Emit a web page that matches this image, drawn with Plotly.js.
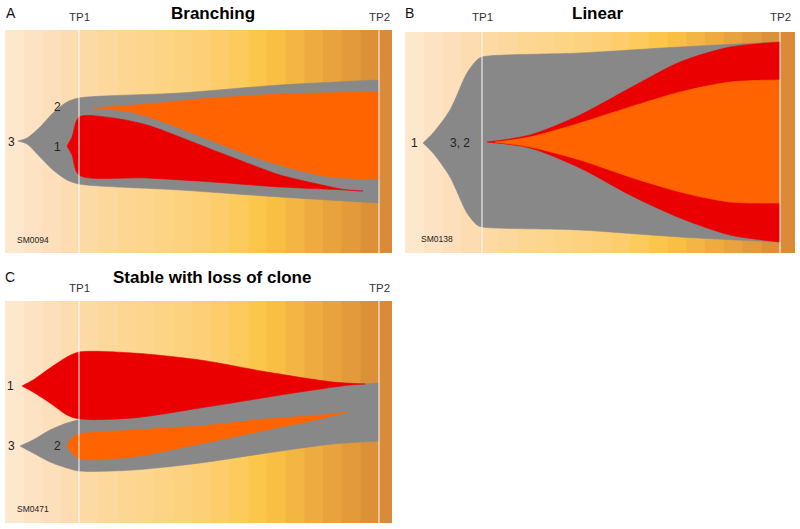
<!DOCTYPE html>
<html><head><meta charset="utf-8">
<script src="https://cdn.plot.ly/plotly-3.0.1.min.js"></script>
<style>html,body{margin:0;padding:0;background:#fff}#chart{width:800px;height:529px}</style>
</head><body><div id="chart"></div>
<script>
// ---------------- data ----------------
const panelLetters = ['A', 'B', 'C'];
const panelTitles = ['Branching', 'Linear', 'Stable with loss of clone'];
const sampleIds = ['SM0094', 'SM0138', 'SM0471'];
const timepointLabels = ['TP1', 'TP2'];

// Panel A (Branching) – clone boundaries (x = position along time, y = vertical position)
const A_c3_top_x = [18, 27, 40, 53, 67, 79, 180, 280, 379];
const A_c3_top_y = [141, 138, 127, 113, 102, 98, 93, 85, 80];
const A_c3_bot_x = [18, 27, 40, 53, 67, 79, 180, 280, 379];
const A_c3_bot_y = [141, 144, 157, 170, 180, 184, 190, 197, 203];
const A_c2_top_x = [93, 147, 213, 280, 379];
const A_c2_top_y = [108, 104, 98, 94, 92];
const A_c2_bot_x = [93, 130, 163, 197, 230, 263, 297, 330, 379];
const A_c2_bot_y = [108, 112, 122, 135, 148, 160, 170, 177, 179];
const A_c1_top_x = [67, 72, 79, 113, 147, 180, 213, 247, 280, 313, 347, 363];
const A_c1_top_y = [146, 137, 117, 118, 125, 137, 150, 163, 175, 183, 190, 191];
const A_c1_bot_x = [67, 72, 79, 147, 213, 280, 347, 363];
const A_c1_bot_y = [146, 155, 175, 178, 182, 187, 190, 191];

// Panel B (Linear)
const B_c1_top_x = [423, 433, 450, 467, 477, 482, 580, 680, 780];
const B_c1_top_y = [143, 133, 110, 73, 60, 57, 53, 47, 42];
const B_c1_bot_x = [423, 433, 450, 467, 477, 482, 580, 680, 780];
const B_c1_bot_y = [143, 153, 177, 213, 225, 227, 230, 237, 242];
const B_c3_top_x = [487, 530, 580, 630, 680, 730, 780];
const B_c3_top_y = [142, 135, 115, 88, 62, 47, 42];
const B_c3_bot_x = [487, 530, 580, 630, 680, 730, 780];
const B_c3_bot_y = [142, 148, 168, 195, 218, 235, 242];
const B_c2_top_x = [495, 530, 580, 630, 680, 730, 780];
const B_c2_top_y = [142, 137, 123, 107, 92, 82, 80];
const B_c2_bot_x = [495, 530, 580, 630, 680, 730, 780];
const B_c2_bot_y = [142, 147, 160, 177, 192, 202, 203];

// Panel C (Stable with loss of clone)
const C_c3_top_x = [20, 33, 50, 67, 79, 133, 200, 250, 300, 350, 379];
const C_c3_top_y = [446, 440, 430, 423, 420, 416, 406, 398, 390, 385, 383];
const C_c3_bot_x = [20, 33, 50, 67, 79, 133, 200, 267, 333, 379];
const C_c3_bot_y = [446, 453, 462, 468, 471, 470, 463, 453, 444, 441];
const C_c2_top_x = [67, 72, 79, 133, 200, 267, 320, 348];
const C_c2_top_y = [446, 438, 434, 430, 426, 419, 415, 412];
const C_c2_bot_x = [67, 72, 79, 133, 200, 267, 320, 348];
const C_c2_bot_y = [446, 453, 459, 457, 444, 430, 419, 412];
const C_c1_top_x = [22, 33, 50, 67, 79, 133, 200, 267, 333, 365];
const C_c1_top_y = [386, 380, 368, 357, 352, 353, 360, 372, 382, 384];
const C_c1_bot_x = [22, 33, 50, 67, 79, 133, 200, 250, 300, 350, 365];
const C_c1_bot_y = [386, 392, 403, 415, 419, 418, 408, 400, 392, 385, 384];

// clone labels: [text, x, y]
const A_labels = [['3', 11, 142], ['2', 57, 107], ['1', 57, 147]];
const B_labels = [['1', 414, 143], ['3, 2', 460, 143]];
const C_labels = [['1', 10, 386], ['3', 11, 446], ['2', 57, 446]];

// ---------------- styles / geometry ----------------
const W = 800, H = 529;
const GREY = '#888888', RED = '#ea0000', ORANGE = '#ff6400';
const bandColors = ['#fde7cd','#fde3c3','#fde0bb','#fddcb1','#fdd9a4','#fdd89c','#fdd693','#fdd58c',
  '#fdd486','#fdd27f','#fdd077','#fdcd6b','#fdca5c','#fcc64a','#f9bf45','#f4b642','#eeac40','#e9a33e',
  '#e39a3b','#dc9038'];
const stripColor = '#d98b3a';
const FONT = '"Liberation Sans", Arial, Helvetica, sans-serif';

const panels = [
  {xa: 'x',  ya: 'y',  left: 5,   right: 392, top: 30,  bottom: 253, tp1: 79,  tp2: 379,
   letter: [11, 13], title: [213, 13], tpy: 17, sid: [33, 240], labels: A_labels},
  {xa: 'x2', ya: 'y2', left: 405, right: 795, top: 32,  bottom: 253, tp1: 482, tp2: 780,
   letter: [410, 13], title: [597, 13], tpy: 17, sid: [437, 239], labels: B_labels},
  {xa: 'x3', ya: 'y3', left: 5,   right: 392, top: 301, bottom: 523, tp1: 79,  tp2: 379,
   letter: [10, 277], title: [212, 277], tpy: 288, sid: [33, 509], labels: C_labels},
];

function cloneTraces(xa, ya, color, tx, ty, bx, by) {
  const common = {xaxis: xa, yaxis: ya, mode: 'lines', hoverinfo: 'skip', showlegend: false,
    line: {shape: 'spline', smoothing: 0.8, width: 0.6, color: color}};
  return [
    Object.assign({}, common, {x: bx, y: by}),
    Object.assign({}, common, {x: tx, y: ty, fill: 'tonexty', fillcolor: color})
  ];
}

const traces = [].concat(
  cloneTraces('x', 'y', GREY, A_c3_top_x, A_c3_top_y, A_c3_bot_x, A_c3_bot_y),
  cloneTraces('x', 'y', ORANGE, A_c2_top_x, A_c2_top_y, A_c2_bot_x, A_c2_bot_y),
  cloneTraces('x', 'y', RED, A_c1_top_x, A_c1_top_y, A_c1_bot_x, A_c1_bot_y),
  cloneTraces('x2', 'y2', GREY, B_c1_top_x, B_c1_top_y, B_c1_bot_x, B_c1_bot_y),
  cloneTraces('x2', 'y2', RED, B_c3_top_x, B_c3_top_y, B_c3_bot_x, B_c3_bot_y),
  cloneTraces('x2', 'y2', ORANGE, B_c2_top_x, B_c2_top_y, B_c2_bot_x, B_c2_bot_y),
  cloneTraces('x3', 'y3', GREY, C_c3_top_x, C_c3_top_y, C_c3_bot_x, C_c3_bot_y),
  cloneTraces('x3', 'y3', ORANGE, C_c2_top_x, C_c2_top_y, C_c2_bot_x, C_c2_bot_y),
  cloneTraces('x3', 'y3', RED, C_c1_top_x, C_c1_top_y, C_c1_bot_x, C_c1_bot_y)
);

const layout = {
  width: W, height: H, margin: {l: 0, r: 0, t: 0, b: 0},
  paper_bgcolor: '#ffffff', plot_bgcolor: 'rgba(0,0,0,0)',
  showlegend: false, font: {family: FONT},
  shapes: [], annotations: []
};

function ann(text, px, py, size, extra) {
  return Object.assign({text: text, x: px / W, y: 1 - py / H, xref: 'paper', yref: 'paper',
    xanchor: 'center', yanchor: 'middle', showarrow: false,
    font: {family: FONT, size: size, color: '#222'}}, extra || {});
}

panels.forEach((p, i) => {
  const xk = p.xa === 'x' ? 'xaxis' : 'xaxis' + p.xa.slice(1);
  const yk = p.ya === 'y' ? 'yaxis' : 'yaxis' + p.ya.slice(1);
  layout[xk] = {domain: [p.left / W, p.right / W], range: [p.left, p.right], visible: false,
    fixedrange: true, anchor: p.ya};
  layout[yk] = {domain: [1 - p.bottom / H, 1 - p.top / H], range: [p.bottom, p.top], visible: false,
    fixedrange: true, anchor: p.xa};
  // background gradient bands
  const bw = (p.tp2 - p.left) / bandColors.length;
  bandColors.forEach((c, k) => {
    layout.shapes.push({type: 'rect', xref: p.xa, yref: p.ya, layer: 'below',
      x0: p.left + k * bw, x1: p.left + (k + 1) * bw + 0.6, y0: p.top, y1: p.bottom,
      fillcolor: c, line: {width: 0}});
  });
  layout.shapes.push({type: 'rect', xref: p.xa, yref: p.ya, layer: 'below',
    x0: p.tp2, x1: p.right, y0: p.top, y1: p.bottom, fillcolor: stripColor, line: {width: 0}});
  // timepoint lines
  [p.tp1, p.tp2].forEach(tx => {
    layout.shapes.push({type: 'line', xref: p.xa, yref: p.ya, layer: 'above',
      x0: tx, x1: tx, y0: p.top, y1: p.bottom,
      line: {color: 'rgba(255,255,255,0.65)', width: 1.5}});
  });
  // texts
  layout.annotations.push(ann(panelLetters[i], p.letter[0], p.letter[1], 14, {font: {family: FONT, size: 14, color: '#111'}}));
  layout.annotations.push(ann('<b>' + panelTitles[i] + '</b>', p.title[0], p.title[1], 17, {font: {family: FONT, size: 17, color: '#000'}}));
  layout.annotations.push(ann(timepointLabels[0], p.tp1, p.tpy, 11.5, {font: {family: FONT, size: 11.5, color: '#333'}}));
  layout.annotations.push(ann(timepointLabels[1], p.tp2, p.tpy, 11.5, {font: {family: FONT, size: 11.5, color: '#333'}}));
  layout.annotations.push(ann(sampleIds[i], p.sid[0], p.sid[1], 8.5, {font: {family: FONT, size: 8.5, color: '#222'}}));
  p.labels.forEach(l => {
    layout.annotations.push({text: l[0], x: l[1], y: l[2], xref: p.xa, yref: p.ya,
      xanchor: 'center', yanchor: 'middle', showarrow: false,
      font: {family: FONT, size: 12, color: '#222'}});
  });
});

Plotly.newPlot('chart', traces, layout, {staticPlot: true, displayModeBar: false});
</script></body></html>
